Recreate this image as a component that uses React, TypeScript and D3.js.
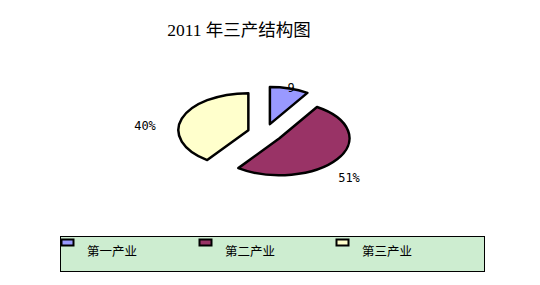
import React from "react";
import * as d3 from "d3";

const categories = ["第一产业", "第二产业", "第三产业"];
const shares = [9, 51, 40];
const sliceLabels = ["9", "51%", "40%"];
const colors = ["#9999FF", "#993366", "#FFFFCC"];
const title = "2011 年三产结构图";

const W = 540;
const H = 285;
const cx = 265;
const cy = 133;
const rx = 70;
const ry = 37;
const explode = 0.25;

export default function App() {
  const pie = d3.pie<number>().sort(null).value((d) => d);
  const arcs = pie(shares);
  // arc in a unit-radius circle, later squashed into an ellipse
  const arc = d3.arc<d3.PieArcDatum<number>>().innerRadius(0).outerRadius(1);
  const labelPos: [number, number][] = [
    [291, 92],
    [349, 182],
    [145, 130],
  ];
  const legendX = [61, 199, 336];

  return (
    <svg width={W} height={H} style={{ position: "absolute", left: 0, top: 0 }}>
      <rect width={W} height={H} fill="#fff" />
      <text
        x={239}
        y={36}
        textAnchor="middle"
        fontSize={17.5}
        fontFamily="'Liberation Serif', 'Noto Sans CJK SC', serif"
        fill="#000"
      >
        {title}
      </text>
      {arcs.map((a, i) => {
        const mid = (a.startAngle + a.endAngle) / 2;
        const ox = Math.sin(mid) * explode * rx;
        const oy = -Math.cos(mid) * explode * ry;
        return (
          <path
            key={i}
            d={arc(a) || ""}
            transform={`translate(${cx + ox},${cy + oy}) scale(${rx},${ry})`}
            fill={colors[i]}
            stroke="#000"
            strokeWidth={2.5}
            strokeLinejoin="round"
            vectorEffect="non-scaling-stroke"
          />
        );
      })}
      {sliceLabels.map((t, i) => (
        <text
          key={i}
          x={labelPos[i][0]}
          y={labelPos[i][1]}
          textAnchor="middle"
          fontSize={12}
          fontFamily="'DejaVu Sans Mono', monospace"
          fill="#000"
        >
          {t}
        </text>
      ))}
      <rect x={60.5} y={236.5} width={424} height={35} fill="#CDEDD0" stroke="#000" strokeWidth={1} />
      {categories.map((c, i) => (
        <g key={c}>
          <rect
            x={legendX[i] + 0.5}
            y={239.5}
            width={12}
            height={6}
            fill={colors[i]}
            stroke="#000"
            strokeWidth={2}
          />
          <text
            x={legendX[i] + 26}
            y={256}
            fontSize={12.5}
            fontFamily="'Noto Sans CJK SC', sans-serif"
            fill="#000"
          >
            {c}
          </text>
        </g>
      ))}
    </svg>
  );
}
